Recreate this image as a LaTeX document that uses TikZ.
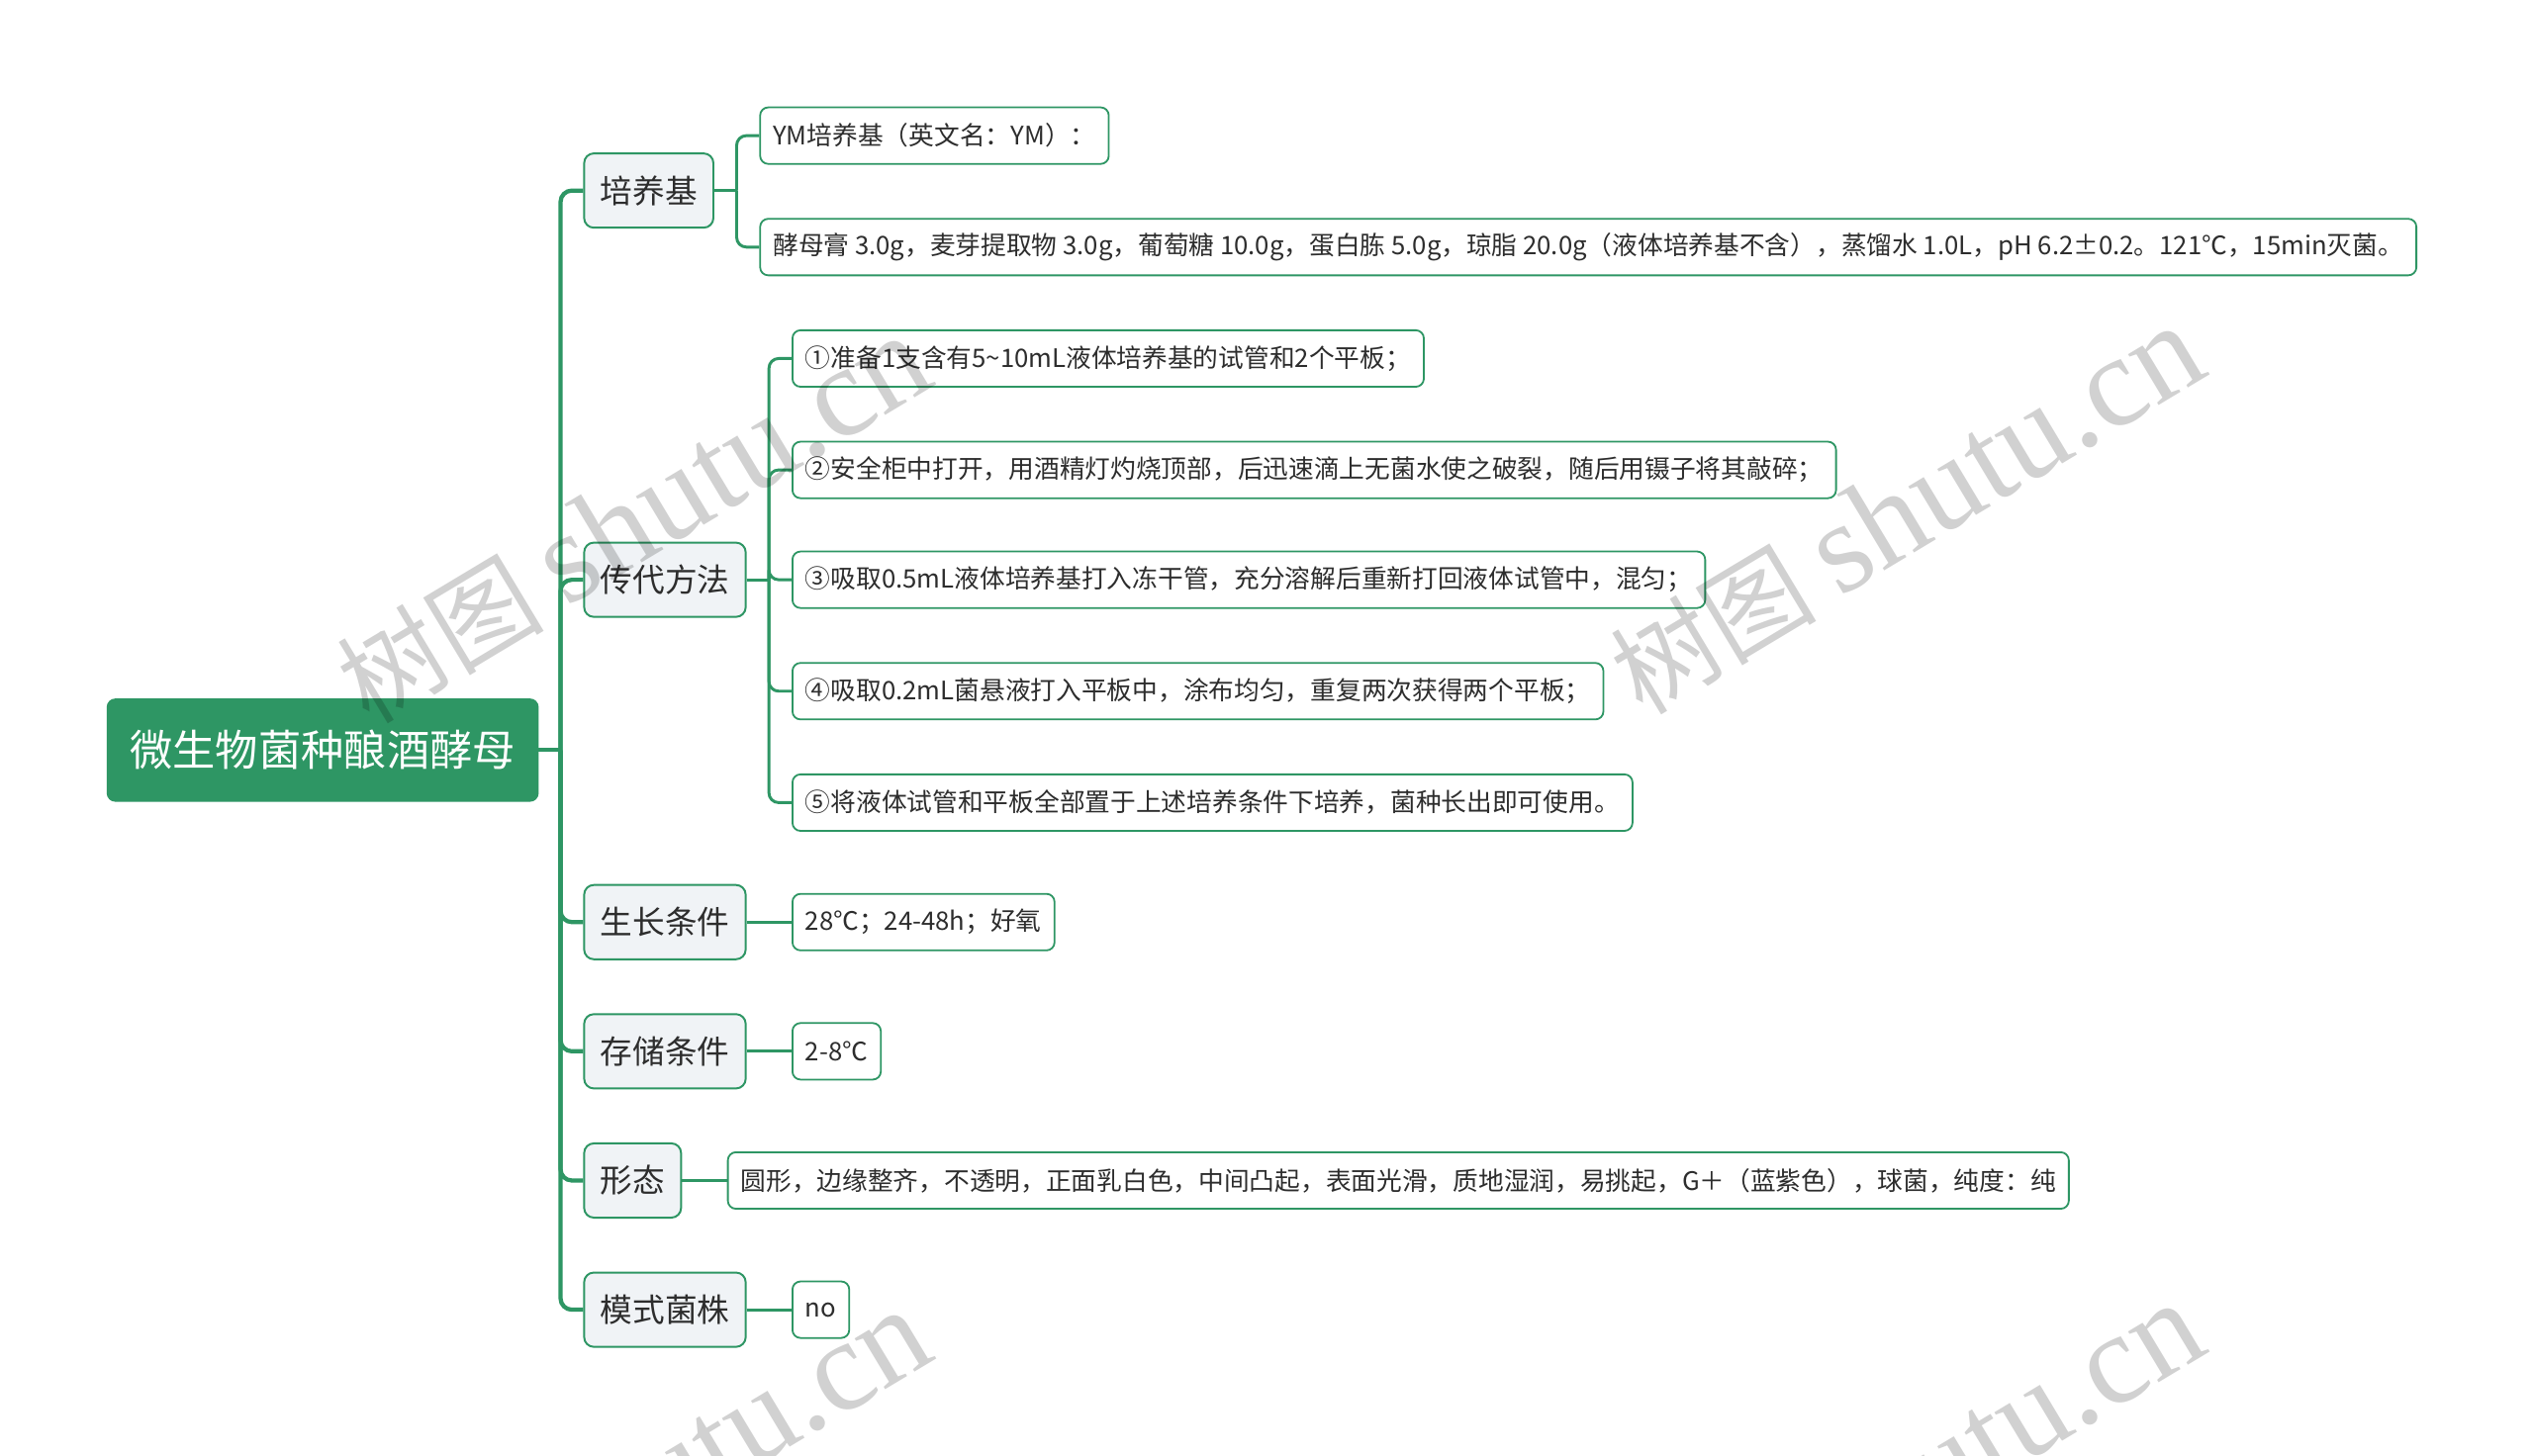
\documentclass[tikz,border=0pt]{standalone}
\usepackage{fontspec}
\setmainfont{Noto Sans CJK SC}
\newfontfamily\cjk{Noto Sans CJK SC}
\newfontfamily\wmfont{Liberation Serif}
\definecolor{mg}{RGB}{46,150,100}
\definecolor{lf}{RGB}{240,243,246}
\definecolor{tx}{RGB}{45,45,45}
\begin{document}
\begin{tikzpicture}[x=1pt,y=-1pt,
  rootbox/.style={draw=mg,fill=mg,line width=1pt,rounded corners=5pt,text=white,font=\fontsize{26.5}{30}\selectfont,minimum height=63pt,inner xsep=14pt,anchor=west},
  lvone/.style={draw=mg,line width=1.2pt,fill=lf,rounded corners=6pt,text=tx,font=\fontsize{20}{24}\selectfont,minimum height=46pt,inner xsep=10pt,anchor=west},
  lvtwo/.style={draw=mg,line width=1.1pt,fill=white,rounded corners=5pt,text=tx,font=\fontsize{15.75}{19}\selectfont,minimum height=35pt,inner xsep=8pt,anchor=west},
  spine/.style={draw=mg,line width=2.6pt,rounded corners=7pt},
  twig/.style={draw=mg,line width=1.8pt,rounded corners=6pt},
  wm/.style={text=black,opacity=0.18,rotate=31,inner sep=0pt}]
\useasboundingbox (0,0) rectangle (1568,901);
\fill[white] (0,0) rectangle (1568,901);

\node[rootbox] (root) at (66,464.5) {微生物菌种酿酒酵母};

\node[lvone] (a) at (361,118) {培养基};
\node[lvone] (b) at (361,359) {传代方法};
\node[lvone] (c) at (361,571) {生长条件};
\node[lvone] (d) at (361,651) {存储条件};
\node[lvone] (e) at (361,731) {形态};
\node[lvone] (f) at (361,811) {模式菌株};

\node[lvtwo] (a1) at (470,84) {YM培养基（英文名：YM）：};
\node[lvtwo] (a2) at (470,153) {酵母膏 3.0g，麦芽提取物 3.0g，葡萄糖 10.0g，蛋白胨 5.0g，琼脂 20.0g（液体培养基不含），蒸馏水 1.0L，pH 6.2±0.2。121℃，15min灭菌。};
\node[lvtwo] (b1) at (490,222) {①准备1支含有5\textasciitilde10mL液体培养基的试管和2个平板；};
\node[lvtwo] (b2) at (490,291) {②安全柜中打开，用酒精灯灼烧顶部，后迅速滴上无菌水使之破裂，随后用镊子将其敲碎；};
\node[lvtwo] (b3) at (490,359) {③吸取0.5mL液体培养基打入冻干管，充分溶解后重新打回液体试管中，混匀；};
\node[lvtwo] (b4) at (490,428) {④吸取0.2mL菌悬液打入平板中，涂布均匀，重复两次获得两个平板；};
\node[lvtwo] (b5) at (490,497) {⑤将液体试管和平板全部置于上述培养条件下培养，菌种长出即可使用。};
\node[lvtwo] (c1) at (490,571) {28℃；24-48h；好氧};
\node[lvtwo] (d1) at (490,651) {2-8℃};
\node[lvtwo] (e1) at (450,731) {圆形，边缘整齐，不透明，正面乳白色，中间凸起，表面光滑，质地湿润，易挑起，G＋（蓝紫色），球菌，纯度：纯};
\node[lvtwo] (f1) at (490,811) {no};

\coordinate (sp) at (347,464.5);
\draw[spine] (root.east) -- (sp);
\foreach \n in {a,b,c,d,e,f} \draw[spine] (sp) |- (\n.west);

\coordinate (ja) at (456,118);
\draw[twig] (a.east) -- (ja);
\draw[twig] (ja) |- (a1.west);
\draw[twig] (ja) |- (a2.west);

\coordinate (jb) at (476,359);
\draw[twig] (b.east) -- (jb);
\foreach \n in {b1,b2,b3,b4,b5} \draw[twig] (jb) |- (\n.west);

\draw[twig] (c.east) -- (c1.west);
\draw[twig] (d.east) -- (d1.west);
\draw[twig] (e.east) -- (e1.west);
\draw[twig] (f.east) -- (f1.west);

\begin{scope}
\clip (0,0) rectangle (1568,901);
\node[wm] (w1) at (392,322) {\fontsize{64}{70}\selectfont\cjk 树图 \fontsize{80}{86}\selectfont\wmfont shutu.cn};
\node[wm] (w2) at (1180,316) {\fontsize{64}{70}\selectfont\cjk 树图 \fontsize{80}{86}\selectfont\wmfont shutu.cn};
\node[wm] (w3) at (392,925) {\fontsize{64}{70}\selectfont\cjk 树图 \fontsize{80}{86}\selectfont\wmfont shutu.cn};
\node[wm] (w4) at (1180,921) {\fontsize{64}{70}\selectfont\cjk 树图 \fontsize{80}{86}\selectfont\wmfont shutu.cn};
\end{scope}
\end{tikzpicture}
\end{document}
